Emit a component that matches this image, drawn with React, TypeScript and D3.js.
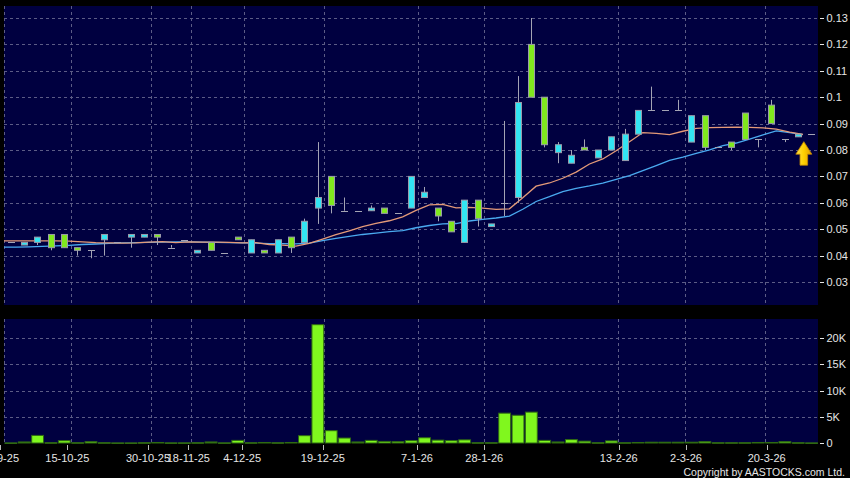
import React from "react";
import * as d3 from "d3";

const opens = [0.045,0.044,0.045,0.048,0.048,0.043,0.042,0.046,0.045,0.047,0.047,0.048,0.043,0.046,0.041,0.045,0.041,0.047,0.041,0.042,0.041,0.047,0.045,0.058,0.070,0.057,0.057,0.057,0.058,0.056,0.058,0.062,0.058,0.053,0.045,0.061,0.051,0.060,0.062,0.120,0.100,0.079,0.075,0.081,0.077,0.080,0.076,0.086,0.095,0.095,0.095,0.083,0.093,0.081,0.083,0.094,0.084,0.097,0.084,0.085,0.086];
const highs = [0.045,0.045,0.047,0.048,0.048,0.043,0.042,0.048,0.045,0.048,0.048,0.048,0.044,0.046,0.042,0.045,0.041,0.047,0.046,0.042,0.046,0.047,0.054,0.083,0.070,0.062,0.057,0.059,0.058,0.056,0.070,0.066,0.058,0.053,0.061,0.061,0.052,0.091,0.108,0.130,0.100,0.083,0.080,0.084,0.080,0.085,0.088,0.095,0.104,0.095,0.099,0.093,0.093,0.081,0.083,0.094,0.084,0.099,0.084,0.086,0.086];
const lows = [0.045,0.044,0.044,0.042,0.043,0.040,0.039,0.040,0.045,0.043,0.047,0.044,0.043,0.046,0.041,0.042,0.041,0.046,0.041,0.041,0.041,0.041,0.045,0.052,0.056,0.057,0.057,0.057,0.056,0.056,0.058,0.062,0.053,0.049,0.045,0.051,0.051,0.055,0.060,0.100,0.081,0.075,0.075,0.080,0.077,0.080,0.076,0.086,0.095,0.095,0.095,0.083,0.080,0.081,0.080,0.084,0.081,0.090,0.083,0.085,0.086];
const closes = [0.045,0.045,0.047,0.043,0.043,0.042,0.042,0.048,0.045,0.048,0.048,0.047,0.043,0.046,0.042,0.042,0.041,0.046,0.046,0.041,0.046,0.043,0.053,0.062,0.059,0.057,0.057,0.058,0.056,0.056,0.070,0.064,0.055,0.049,0.061,0.054,0.052,0.060,0.098,0.100,0.082,0.082,0.078,0.080,0.080,0.085,0.086,0.095,0.095,0.095,0.095,0.093,0.081,0.081,0.081,0.084,0.084,0.090,0.084,0.086,0.086];
const volumes = [20,200,1450,50,450,50,250,50,20,20,50,100,30,30,50,200,30,500,50,100,50,100,1400,22600,2350,950,200,500,300,250,450,1000,550,450,600,50,50,5700,5300,5900,500,200,650,350,50,400,50,100,150,150,150,150,250,50,50,50,100,100,250,50,20];

const ma10 = [0.0456,0.0456,0.0456,0.0456,0.0455,0.0452,0.0449,0.0448,0.0447,0.0448,0.0451,0.0453,0.0449,0.0452,0.0451,0.0451,0.0450,0.0448,0.0449,0.0442,0.0440,0.0436,0.0446,0.0462,0.0479,0.0494,0.0510,0.0522,0.0532,0.0547,0.0571,0.0592,0.0594,0.0581,0.0583,0.0580,0.0575,0.0577,0.0619,0.0663,0.0675,0.0693,0.0716,0.0747,0.0766,0.0797,0.0831,0.0866,0.0863,0.0858,0.0871,0.0882,0.0885,0.0886,0.0887,0.0886,0.0884,0.0879,0.0868,0.0859];
const ma20 = [0.0432,0.0433,0.0435,0.0437,0.0439,0.0442,0.0444,0.0446,0.0448,0.0449,0.0450,0.0451,0.0452,0.0452,0.0451,0.0450,0.0449,0.0448,0.0447,0.0445,0.04455,0.04445,0.04475,0.0457,0.0465,0.04725,0.0480,0.0485,0.04905,0.04945,0.05055,0.0514,0.0520,0.05215,0.0531,0.0537,0.05425,0.05495,0.05755,0.0605,0.0623,0.06425,0.0655,0.0664,0.06745,0.06885,0.0703,0.07215,0.0741,0.07605,0.0773,0.07875,0.08005,0.08165,0.08265,0.08415,0.08575,0.08725,0.08655,0.08585];

const tickIdx = [0, 5, 11, 14, 18, 24, 31, 36, 46, 51, 57];
const tickLabels = ["30-9-25","15-10-25","30-10-25","18-11-25","4-12-25","19-12-25","7-1-26","28-1-26","13-2-26","2-3-26","20-3-26"];
const priceTicks = [0.03,0.04,0.05,0.06,0.07,0.08,0.09,0.1,0.11,0.12,0.13];
const volTicks = [0, 5000, 10000, 15000, 20000];
const volTickLabels = ["0","5K","10K","15K","20K"];

const W = 850, H = 478;
const PL = 4, PR = 818;
const PT = 6, PB = 305;
const VT = 319, VB = 443;

const NAVY = "#000040";
const GRID = "#5c5c86";
const UP = "#33e4f2";
const DOWN = "#80e81e";
const EDGE = "#9a9aaa";
const WICK = "#a4a4b4";
const TXT = "#e6e6e6";
const FONT = "'Liberation Sans', Arial, sans-serif";

export default function App() {
  const n = closes.length;
  const xb = d3.scaleBand<number>().domain(d3.range(n)).range([PL, PR]).paddingInner(0).paddingOuter(0);
  const bw = xb.bandwidth();
  const cx = (i: number) => (xb(i) as number) + bw / 2;
  const y = d3.scaleLinear().domain([0.03, 0.13]).range([282, 18]);
  const yv = d3.scaleLinear().domain([0, 20000]).range([VB, 338.3]);
  const xt = d3.scaleLinear().domain([5, 57]).range([67.3, 766.7]);

  const maX = (i: number) => (i < 0 ? PL : cx(i) + 5);
  const line = d3.line<[number, number]>().x((d) => d[0]).y((d) => d[1]);
  const maPath = (arr: number[]) =>
    line([[PL, y(arr[0])] as [number, number]].concat(arr.map((v, i) => [maX(i), y(v)] as [number, number])));

  const gridX = [PL].concat(tickIdx.filter((t) => t > 0).map((t) => xb(t) as number));

  const lastX = cx(n - 1) - 7.5;
  const lastY = y(closes[n - 1]) + 7.5;

  return (
    <svg width={W} height={H} style={{ position: "absolute", left: 0, top: 0, background: "#000" }} fontFamily={FONT}>
      <defs>
        <clipPath id="pc"><rect x={PL} y={PT} width={PR - PL} height={PB - PT} /></clipPath>
        <linearGradient id="ag" x1="0" y1="0" x2="1" y2="0">
          <stop offset="0" stopColor="#ffe34a" />
          <stop offset="0.5" stopColor="#ffd000" />
          <stop offset="1" stopColor="#e09a00" />
        </linearGradient>
      </defs>
      <rect x={0} y={0} width={W} height={H} fill="#000" />
      <rect x={PL} y={PT} width={PR - PL} height={PB - PT} fill={NAVY} />
      <rect x={PL} y={VT} width={PR - PL} height={VB - VT} fill={NAVY} />

      {/* grids */}
      <g stroke={GRID} strokeWidth={1} strokeDasharray="3,3" fill="none">
        {priceTicks.map((p) => (
          <line key={"hp" + p} x1={PL} x2={PR} y1={Math.round(y(p)) + 0.5} y2={Math.round(y(p)) + 0.5} />
        ))}
        {volTicks.filter((v) => v > 0).map((v) => (
          <line key={"hv" + v} x1={PL} x2={PR} y1={Math.round(yv(v)) + 0.5} y2={Math.round(yv(v)) + 0.5} />
        ))}
        {gridX.map((gx, k) => (
          <g key={"gx" + k}>
            <line x1={Math.round(gx) + 0.5} x2={Math.round(gx) + 0.5} y1={PT} y2={PB} />
            <line x1={Math.round(gx) + 0.5} x2={Math.round(gx) + 0.5} y1={VT} y2={VB} />
          </g>
        ))}
      </g>

      {/* moving averages */}
      <g clipPath="url(#pc)" fill="none">
        <path d={maPath(ma20) as string} stroke="#4aaaf0" strokeWidth={1.3} />
        <path d={maPath(ma10) as string} stroke="#e49a78" strokeWidth={1.3} />
      </g>

      {/* candles */}
      <g>
        {closes.map((c, i) => {
          const o = opens[i], h = highs[i], l = lows[i];
          const x = cx(i);
          const top = y(Math.max(o, c));
          const bot = y(Math.min(o, c));
          const doji = o === c;
          const col = c > o ? UP : DOWN;
          return (
            <g key={"c" + i}>
              {h !== l && (
                <line x1={Math.round(x) + 0.5} x2={Math.round(x) + 0.5} y1={y(h)} y2={y(l)} stroke={WICK} strokeWidth={1} />
              )}
              {doji ? (
                <line x1={Math.round(x) - 3} x2={Math.round(x) + 4} y1={Math.round(y(c)) + 0.5} y2={Math.round(y(c)) + 0.5} stroke={WICK} strokeWidth={1} />
              ) : (
                <rect x={Math.round(x) - 2.5} y={top} width={6} height={Math.max(1, bot - top)} fill={col} stroke={EDGE} strokeWidth={1} />
              )}
            </g>
          );
        })}
      </g>

      {/* arrow marker for last price */}
      <path
        d={`M${lastX},${lastY} L${lastX + 8},${lastY + 12.5} L${lastX + 3.8},${lastY + 12.5} L${lastX + 3.8},${lastY + 23.5} L${lastX - 3.8},${lastY + 23.5} L${lastX - 3.8},${lastY + 12.5} L${lastX - 8},${lastY + 12.5} Z`}
        fill="url(#ag)"
        stroke="#c88a00"
        strokeWidth={0.8}
      />

      {/* volume bars */}
      <g>
        {volumes.map((v, i) => {
          const x0 = (xb(i) as number) + 1;
          const top = yv(v);
          return (
            <rect key={"v" + i} x={x0} y={top} width={bw - 1.5} height={Math.max(0.5, VB - top)} fill="#80f71e" stroke="#2f6a12" strokeWidth={1} />
          );
        })}
      </g>

      {/* right axis labels */}
      <g fill={TXT} fontSize={11}>
        {priceTicks.map((p) => (
          <g key={"pl" + p}>
            <line x1={820} x2={824} y1={Math.round(y(p)) + 0.5} y2={Math.round(y(p)) + 0.5} stroke={TXT} strokeWidth={1} />
            <text x={826.5} y={y(p) + 4}>{String(p)}</text>
          </g>
        ))}
        {volTicks.map((v, k) => (
          <g key={"vl" + v}>
            <line x1={820} x2={824} y1={Math.round(yv(v)) + 0.5} y2={Math.round(yv(v)) + 0.5} stroke={TXT} strokeWidth={1} />
            <text x={826.5} y={yv(v) + 4}>{volTickLabels[k]}</text>
          </g>
        ))}
      </g>

      {/* bottom axis */}
      <g fill={TXT} fontSize={11}>
        {tickIdx.map((t, k) => (
          <g key={"xt" + t}>
            <line x1={Math.round(xt(t)) + 0.5} x2={Math.round(xt(t)) + 0.5} y1={445} y2={450} stroke="#bbbbbb" strokeWidth={1} />
            <text x={xt(t)} y={461.5} textAnchor="middle">{tickLabels[k]}</text>
          </g>
        ))}
      </g>
      <text x={845} y={476} fill={TXT} fontSize={10.5} textAnchor="end" letterSpacing={0}>Copyright by AASTOCKS.com Ltd.</text>
    </svg>
  );
}
